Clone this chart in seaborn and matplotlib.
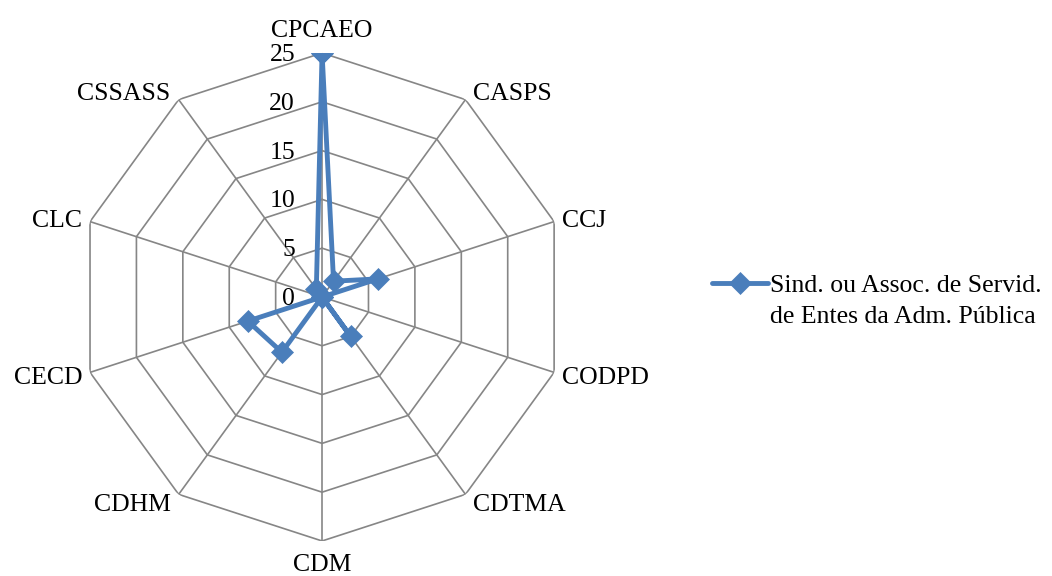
import numpy as np
import pandas as pd
import matplotlib
matplotlib.use("Agg")
import matplotlib.pyplot as plt
from matplotlib.lines import Line2D
import seaborn as sns

# Committees (clockwise from the top) and the series values
categories = ["CPCAEO", "CASPS", "CCJ", "CODPD", "CDTMA",
              "CDM", "CDHM", "CECD", "CLC", "CSSASS"]
values = [25, 2, 6, 0, 5, 0, 7, 8, 0, 1]
series_label = ["Sind. ou Assoc. de Servid.", "de Entes da Adm. Pública"]
ring_levels = [0, 5, 10, 15, 20, 25]

LINE_COLOR = "#4A7EBB"
GRID_COLOR = "#868686"
FONT = "Liberation Serif"
FS = 18.5

sns.set_theme(style="white")
plt.rcParams["font.family"] = [FONT, "DejaVu Serif"]
plt.rcParams["text.color"] = "black"

n = len(categories)
angles = np.deg2rad(np.arange(n) * 360.0 / n)
rmax = ring_levels[-1]

df = pd.DataFrame({
    "theta": np.append(angles, 2 * np.pi),
    "value": values + values[:1],
})

fig = plt.figure(figsize=(10.52, 5.76), dpi=100)
ax = fig.add_axes([0.0742, 0.0608, 0.4639, 0.8472], projection="polar")
ax.set_theta_zero_location("N")
ax.set_theta_direction(-1)
ax.grid(False)
ax.spines["polar"].set_visible(False)
ax.set_facecolor("white")

# Decagon rings and spokes
ring_theta = np.append(angles, angles[0])
for lvl in ring_levels[1:]:
    ax.plot(ring_theta, [lvl] * len(ring_theta), color=GRID_COLOR, lw=1.2, zorder=1)
for a in angles:
    ax.plot([a, a], [0, rmax], color=GRID_COLOR, lw=1.2, zorder=1)

sns.lineplot(data=df, x="theta", y="value", sort=False, estimator=None,
             color=LINE_COLOR, lw=3.5, marker="D", markersize=11,
             markeredgecolor=LINE_COLOR, markeredgewidth=0.5,
             legend=False, ax=ax, zorder=3)

ax.set_ylim(0, rmax)
ax.set_xticks([])
ax.set_yticks([])
ax.set_xlabel("")
ax.set_ylabel("")

# Radial value labels
for lvl in ring_levels:
    ax.annotate(str(lvl), xy=(0, lvl), xytext=(-27, -8), textcoords="offset pixels",
                ha="right", va="baseline", fontsize=FS, family=FONT, color="black")

# Category labels around the outer ring
for a, name in zip(angles, categories):
    s, c = np.sin(a), np.cos(a)
    if abs(s) < 0.01:
        ha, dx, k = "center", 0, (24 if c > 0 else 21.5)
    else:
        ha, dx, k = ("left", 8, 10) if s > 0 else ("right", -8, 10)
    dy_down = 8.5 - c * k
    ax.annotate(name, xy=(a, rmax), xytext=(dx, -dy_down), textcoords="offset pixels",
                ha=ha, va="baseline", fontsize=FS, family=FONT, color="black",
                annotation_clip=False)

# Legend
handle = Line2D([], [], color=LINE_COLOR, lw=3.5, marker="D", markersize=11,
                markeredgecolor=LINE_COLOR, markeredgewidth=0.5)
blank = Line2D([], [], color="none")
fig.legend([handle, blank], series_label, loc="center left",
           bbox_to_anchor=(712 / 1052, 1 - 301 / 576), frameon=False,
           borderpad=0, borderaxespad=0, handlelength=2.18, handletextpad=0.08,
           labelspacing=0.3, labelcolor="black", prop={"family": FONT, "size": FS})

fig.savefig("out.png", dpi=100, facecolor="white")
